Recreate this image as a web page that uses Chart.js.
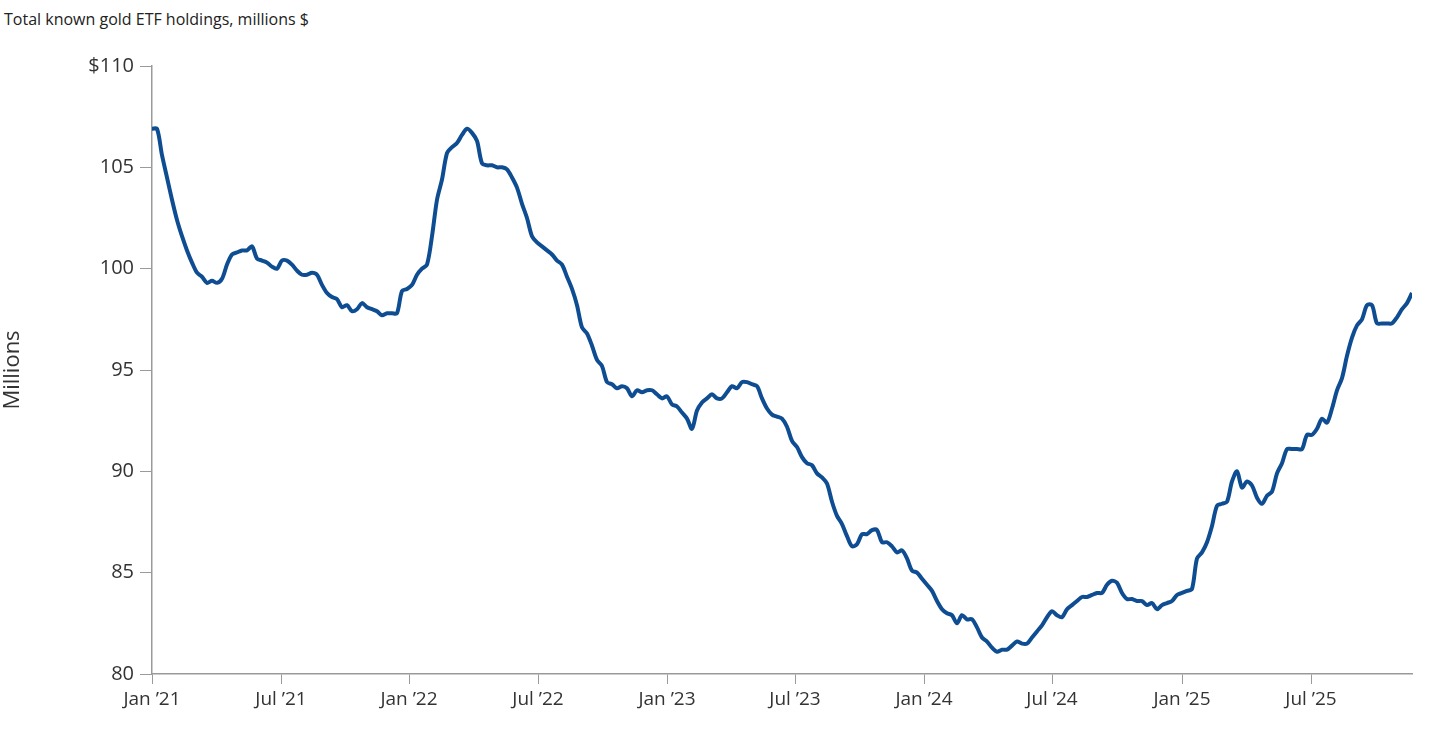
<!DOCTYPE html>
<html>
<head>
<meta charset="utf-8">
<script src="https://cdn.jsdelivr.net/npm/chart.js@4/dist/chart.umd.min.js"></script>
<style>
  html, body { margin: 0; padding: 0; background: #fff; }
  #wrap { position: relative; width: 1440px; height: 743px; }
  #title { position: absolute; left: 4px; top: 8px; font: 16px "Open Sans", sans-serif; color: #222; }
  canvas { position: absolute; left: 0; top: 0; }
</style>
</head>
<body>
<div id="wrap">
  <div id="title">Total known gold ETF holdings, millions $</div>
  <canvas id="chart" width="1440" height="743"></canvas>
</div>
<script>
"use strict";

// weekly holdings, Jan 2021 - Nov 2025
var holdings = [
  106.9,106.9,105.6,104.5,103.4,102.4,101.6,100.9,100.3,99.8,
  99.6,99.3,99.4,99.3,99.5,100.2,100.7,100.8,100.9,100.9,
  101.1,100.5,100.4,100.3,100.1,100.0,100.4,100.4,100.2,99.9,
  99.7,99.7,99.8,99.7,99.2,98.8,98.6,98.5,98.1,98.2,
  97.9,98.0,98.3,98.1,98.0,97.9,97.7,97.8,97.8,97.8,
  98.9,99.0,99.2,99.7,100.0,100.2,101.6,103.4,104.4,105.7,
  106.0,106.2,106.6,106.9,106.7,106.3,105.2,105.1,105.1,105.0,
  105.0,104.9,104.5,104.0,103.2,102.5,101.6,101.3,101.1,100.9,
  100.7,100.4,100.2,99.6,99.0,98.2,97.1,96.8,96.2,95.5,
  95.2,94.4,94.3,94.1,94.2,94.1,93.7,94.0,93.9,94.0,
  94.0,93.8,93.6,93.7,93.3,93.2,92.9,92.6,92.1,93.0,
  93.4,93.6,93.8,93.6,93.6,93.9,94.2,94.1,94.4,94.4,
  94.3,94.2,93.6,93.1,92.8,92.7,92.6,92.2,91.5,91.2,
  90.7,90.4,90.3,89.9,89.7,89.4,88.5,87.8,87.4,86.8,
  86.3,86.4,86.9,86.9,87.1,87.1,86.5,86.5,86.3,86.0,
  86.1,85.7,85.1,85.0,84.7,84.4,84.1,83.6,83.2,83.0,
  82.9,82.5,82.9,82.7,82.7,82.3,81.8,81.6,81.3,81.1,
  81.2,81.2,81.4,81.6,81.5,81.5,81.8,82.1,82.4,82.8,
  83.1,82.9,82.8,83.2,83.4,83.6,83.8,83.8,83.9,84.0,
  84.0,84.4,84.6,84.5,84.0,83.7,83.7,83.6,83.6,83.4,
  83.5,83.2,83.4,83.5,83.6,83.9,84.0,84.1,84.2,85.7,
  86.0,86.5,87.3,88.3,88.4,88.5,89.5,90.0,89.2,89.5,
  89.3,88.7,88.4,88.8,89.0,89.9,90.4,91.1,91.1,91.1,
  91.1,91.8,91.8,92.1,92.6,92.4,93.1,94.0,94.6,95.7,
  96.6,97.2,97.5,98.2,98.2,97.3,97.3,97.3,97.3,97.6,
  98.0,98.3,98.8
];

var tick_labels = ["Jan \u201921","Jul \u201921","Jan \u201922","Jul \u201922","Jan \u201923",
                   "Jul \u201923","Jan \u201924","Jul \u201924","Jan \u201925","Jul \u201925"];
// week index at which each tick label sits
var tick_weeks = [0, 25.8, 51.4, 77.2, 103, 128.6, 154.4, 180, 206, 231.8];
var y_ticks = [80, 85, 90, 95, 100, 105, 110];

var points = holdings.map(function(v, i) { return { x: i, y: v }; });
var axis_color = "#9a9a9a";
var text_color = "#333";

new Chart(document.getElementById("chart"), {
  type: "line",
  data: {
    datasets: [{
      data: points,
      borderColor: "#0f4d92",
      borderWidth: 4,
      pointRadius: 0,
      tension: 0.3,
      fill: false
    }]
  },
  options: {
    responsive: false,
    animation: false,
    layout: { padding: { top: 66, right: 28, left: 0, bottom: 0 } },
    plugins: { legend: { display: false }, tooltip: { enabled: false } },
    scales: {
      x: {
        type: "linear",
        min: 0,
        max: holdings.length - 1,
        afterBuildTicks: function(axis) {
          axis.ticks = tick_weeks.map(function(w) { return { value: w }; });
        },
        afterFit: function(axis) { axis.height = 69; },
        ticks: {
          autoSkip: false,
          maxRotation: 0,
          color: text_color,
          font: { family: "Open Sans", size: 19 },
          padding: 4,
          callback: function(value) {
            var i = tick_weeks.indexOf(value);
            return i >= 0 ? tick_labels[i] : "";
          }
        },
        grid: { drawOnChartArea: false, color: axis_color, tickLength: 10 },
        border: { color: axis_color, width: 1.5 }
      },
      y: {
        min: 80,
        max: 110,
        afterBuildTicks: function(axis) {
          axis.ticks = y_ticks.map(function(v) { return { value: v }; });
        },
        afterFit: function(axis) { axis.width = 152; },
        ticks: {
          color: text_color,
          font: { family: "Open Sans", size: 20 },
          padding: 6,
          callback: function(v) { return v === 110 ? "$110" : v; }
        },
        title: {
          display: true,
          text: "Millions",
          color: text_color,
          font: { family: "Open Sans", size: 22 },
          padding: { top: 0, bottom: 0 }
        },
        grid: { drawOnChartArea: false, color: axis_color, tickLength: 12 },
        border: { color: axis_color, width: 1.5 }
      }
    }
  }
});
</script>
</body>
</html>
